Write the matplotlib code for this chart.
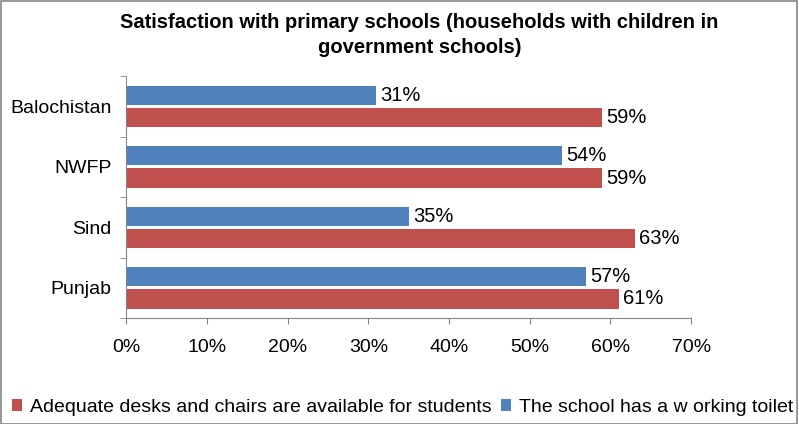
import numpy as np
import matplotlib.pyplot as plt
from matplotlib.ticker import FixedLocator, PercentFormatter

plt.rcParams['font.family'] = ['Liberation Sans', 'DejaVu Sans']

# provinces, top to bottom
provinces = ["Balochistan", "NWFP", "Sind", "Punjab"]
toilet = [31, 54, 35, 57]
desks = [59, 59, 63, 61]

label_desks = "Adequate desks and chairs are available for students"
label_toilet = "The school has a w orking toilet"

red = "#C0504D"
blue = "#4F81BD"
grey = "#868686"

fig = plt.figure(figsize=(7.99, 4.24), dpi=100)
ax = fig.add_axes([0.158, 0.25, 0.707, 0.57])

y = np.arange(len(provinces))
h = 0.32
gap = 0.05
b1 = ax.barh(y - (h + gap) / 2, toilet, height=h, color=blue, label=label_toilet)
b2 = ax.barh(y + (h + gap) / 2, desks, height=h, color=red, label=label_desks)

for bars, vals in ((b1, toilet), (b2, desks)):
    for rect, v in zip(bars, vals):
        ax.text(v + 0.5, rect.get_y() + rect.get_height() / 2, f"{v}%",
                va="center", ha="left", fontsize=14.5, color="black")

ax.set_ylim(len(provinces) - 0.5, -0.5)
ax.set_xlim(0, 70)
ax.set_xticks(np.arange(0, 71, 10))
ax.xaxis.set_major_formatter(PercentFormatter(decimals=0))
ax.set_yticks(y)
ax.set_yticklabels(provinces)
ax.yaxis.set_minor_locator(FixedLocator(np.arange(-0.5, len(provinces), 1)))
ax.tick_params(axis="y", which="major", length=0, pad=10.5, labelsize=14)
ax.tick_params(axis="y", which="minor", length=4, color=grey, direction="out")
ax.tick_params(axis="x", length=4, color=grey, direction="out", pad=11, labelsize=14)

for s in ("top", "right"):
    ax.spines[s].set_visible(False)
for s in ("left", "bottom"):
    ax.spines[s].set_color(grey)

fig.suptitle("Satisfaction with primary schools (households with children in\ngovernment schools)",
             fontsize=14.5, fontweight="bold", y=0.97, x=0.525, linespacing=1.45)

handles = [b2, b1]
fig.legend(handles, [label_desks, label_toilet], loc="lower left",
           bbox_to_anchor=(0.0, -0.008), ncol=2, frameon=False, fontsize=14,
           handlelength=0.55, handleheight=0.55, handletextpad=0.4, columnspacing=0.45,
           borderaxespad=0.2)

fig.patches.append(plt.Rectangle((0.001, 0.001), 0.997, 0.997, transform=fig.transFigure,
                                 fill=False, edgecolor=grey, linewidth=1.2))

fig.savefig("out.png", dpi=100)
